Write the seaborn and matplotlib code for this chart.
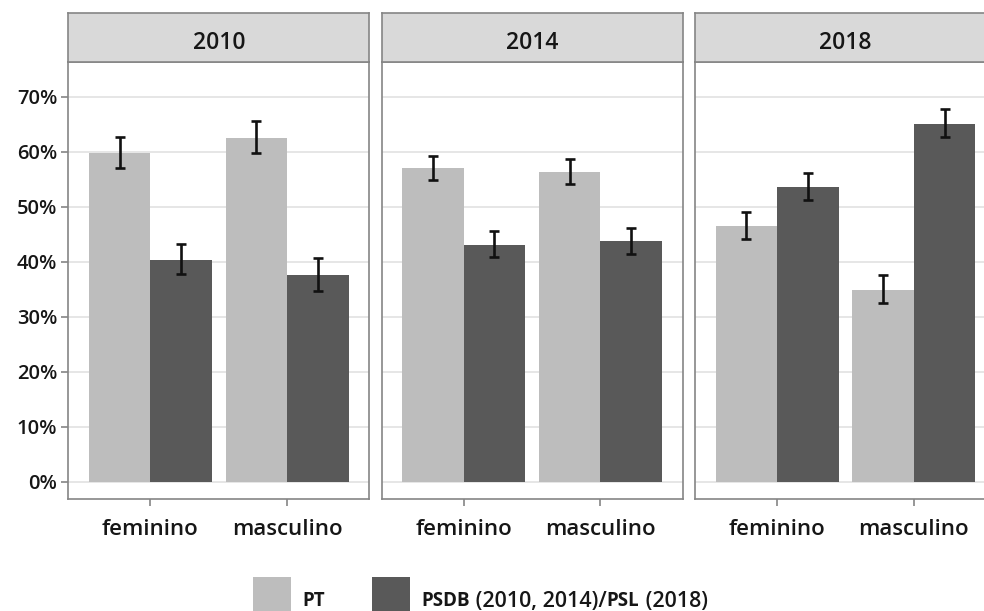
import matplotlib
matplotlib.use("Agg")
import matplotlib.pyplot as plt
from matplotlib.patches import Rectangle
from matplotlib.ticker import FuncFormatter
import numpy as np
import pandas as pd
import seaborn as sns

# Vote share by sex in the presidential runoff, with 95% intervals
years = ["2010", "2014", "2018"]
sexes = ["feminino", "masculino"]
parties = ["PT", "PSDB (2010, 2014)/PSL (2018)"]

# values ordered year by year: feminino, masculino
pt_pct = [59.7, 62.5, 57.0, 56.3, 46.4, 34.9]
pt_lo = [57.0, 59.7, 54.8, 54.1, 44.1, 32.5]
pt_hi = [62.7, 65.6, 59.3, 58.7, 49.0, 37.6]
opp_pct = [40.3, 37.5, 43.0, 43.7, 53.6, 65.1]
opp_lo = [37.7, 34.7, 40.8, 41.4, 51.2, 62.7]
opp_hi = [43.2, 40.6, 45.5, 46.2, 56.1, 67.8]

y_ticks = [0, 10, 20, 30, 40, 50, 60, 70]

rows = []
for i, (yr, sx) in enumerate([(y, s) for y in years for s in sexes]):
    rows.append(dict(ano=yr, sexo=sx, partido=parties[0], pct=pt_pct[i], lo=pt_lo[i], hi=pt_hi[i]))
    rows.append(dict(ano=yr, sexo=sx, partido=parties[1], pct=opp_pct[i], lo=opp_lo[i], hi=opp_hi[i]))
df = pd.DataFrame(rows)

sns.set_style("white")
plt.rcParams["font.family"] = ["Open Sans", "DejaVu Sans"]

LIGHT = "#bdbdbd"
DARK = "#595959"
FRAME = "#858585"
INK = "#161616"
WEIGHT = "semibold"
W, H = 984, 611
fig = plt.figure(figsize=(W / 100, H / 100), dpi=100)
fig.patch.set_facecolor("white")

panel_left = [68.3, 381.5, 695.0]
panel_w = 301.0
panel_top, panel_bot = 62.3, 499.3
strip_top = 13.3

def fx(px):
    return px / W

def fy(py):
    return (H - py) / H

for k, yr in enumerate(years):
    ax = fig.add_axes([fx(panel_left[k]), fy(panel_bot), panel_w / W, (panel_bot - panel_top) / H])
    sub = df[df["ano"] == yr]
    sns.barplot(data=sub, x="sexo", y="pct", hue="partido", order=sexes, hue_order=parties,
                palette=[LIGHT, DARK], width=0.9, errorbar=None, saturation=1,
                legend=False, ax=ax, linewidth=0, zorder=2)
    for cont, party in zip(ax.containers, parties):
        ps = sub[sub["partido"] == party].set_index("sexo").loc[sexes]
        xs = [p.get_x() + p.get_width() / 2 for p in cont.patches]
        vals = ps["pct"].to_numpy()
        yerr = np.vstack([vals - ps["lo"].to_numpy(), ps["hi"].to_numpy() - vals])
        ax.errorbar(xs, vals, yerr=yerr, fmt="none", ecolor="#111111", elinewidth=1.9,
                    capsize=3.6, capthick=1.9, zorder=3)
    ax.set_xlim(-0.6, 1.6)
    ax.set_ylim(-3.2, 76.25)
    ax.set_yticks(y_ticks)
    ax.yaxis.set_major_formatter(FuncFormatter(lambda v, p: f"{v:.0f}%"))
    ax.grid(axis="y", color="#e4e4e4", linewidth=1.3, zorder=0)
    ax.set_axisbelow(True)
    ax.set_xlabel("")
    ax.set_ylabel("")
    for sp in ax.spines.values():
        sp.set_visible(True)
        sp.set_color(FRAME)
        sp.set_linewidth(1.2)
    ax.tick_params(axis="x", length=5, width=1.2, color=FRAME, labelsize=16,
                   labelcolor=INK, pad=9, bottom=True)
    ax.tick_params(axis="y", length=5, width=1.2, color=FRAME, labelsize=14.5,
                   labelcolor=INK, pad=3, left=True)
    for lab in ax.get_xticklabels() + ax.get_yticklabels():
        lab.set_fontweight(WEIGHT)
    if k > 0:
        ax.tick_params(axis="y", left=False, labelleft=False)

    sax = fig.add_axes([fx(panel_left[k]), fy(panel_top), panel_w / W, (panel_top - strip_top) / H])
    sax.set_facecolor("#d9d9d9")
    sax.set_xticks([])
    sax.set_yticks([])
    for sp in sax.spines.values():
        sp.set_visible(True)
        sp.set_color(FRAME)
        sp.set_linewidth(1.2)
    sax.text(0.5, 0.40, yr, ha="center", va="center", fontsize=16.5, color=INK,
             fontweight=WEIGHT, transform=sax.transAxes)

# legend along the bottom
key_y0, key_y1 = 576.7, 615.0
for x0, col in [(253.3, LIGHT), (371.7, DARK)]:
    fig.add_artist(Rectangle((fx(x0), fy(key_y1)), 38.0 / W, (key_y1 - key_y0) / H,
                             transform=fig.transFigure, facecolor=col, edgecolor="none"))

renderer = fig.canvas.get_renderer()

def text_run(x_px, y_px, pieces):
    x = x_px
    for s, kw in pieces:
        t = fig.text(fx(x), fy(y_px), s, ha="left", va="baseline", color=INK, **kw)
        bb = t.get_window_extent(renderer=renderer)
        x += bb.width

bold = dict(fontsize=13.5, fontweight="bold")
reg = dict(fontsize=15.5, fontweight=WEIGHT)
text_run(302.0, 606.5, [("PT", bold)])
text_run(421.5, 606.5, [("PSDB", bold), (" (2010, 2014)/", reg), ("PSL", bold), (" (2018)", reg)])

fig.savefig("out.png", dpi=100, facecolor="white")
